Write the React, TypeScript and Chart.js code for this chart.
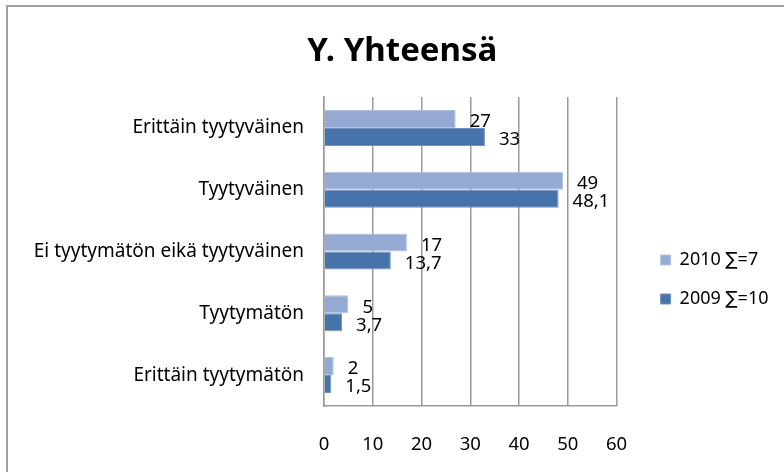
import React, { useEffect, useRef } from 'react';
import { Chart, registerables } from 'chart.js';

Chart.register(...registerables);

const chartTitle = 'Y. Yhteensä';
const categories = [
  'Erittäin tyytyväinen',
  'Tyytyväinen',
  'Ei tyytymätön eikä tyytyväinen',
  'Tyytymätön',
  'Erittäin tyytymätön',
];
const seriesNames = ['2010 ∑=7', '2009 ∑=10'];
const values2010 = [27, 49, 17, 5, 2];
const values2009 = [33, 48.1, 13.7, 3.7, 1.5];
const xTicks = [0, 10, 20, 30, 40, 50, 60];

const FONT = '"Noto Sans", "DejaVu Sans", sans-serif';

const valueLabels = {
  id: 'valueLabels',
  afterDatasetsDraw(chart: any) {
    const ctx = chart.ctx;
    ctx.save();
    ctx.font = `18.5px ${FONT}`;
    ctx.fillStyle = '#000000';
    ctx.textAlign = 'left';
    ctx.textBaseline = 'middle';
    chart.data.datasets.forEach((ds: any, i: number) => {
      const meta = chart.getDatasetMeta(i);
      meta.data.forEach((el: any, j: number) => {
        const v = ds.data[j];
        ctx.fillText(String(v).replace('.', ','), el.x + 14, el.y + 3);
      });
    });
    ctx.restore();
  },
};

export default function App() {
  const ref = useRef<HTMLCanvasElement | null>(null);

  useEffect(() => {
    if (!ref.current) return;
    const gridColor = '#9a9a9a';
    const chart = new Chart(ref.current, {
      type: 'bar',
      data: {
        labels: categories,
        datasets: [
          {
            label: seriesNames[0],
            data: values2010,
            backgroundColor: '#95aad2',
            borderColor: '#b3c2e2',
            borderWidth: 1,
            barPercentage: 1,
            categoryPercentage: 0.583,
          },
          {
            label: seriesNames[1],
            data: values2009,
            backgroundColor: '#4673aa',
            borderColor: '#6f90c0',
            borderWidth: 1,
            barPercentage: 1,
            categoryPercentage: 0.583,
          },
        ],
      },
      options: {
        indexAxis: 'y',
        responsive: false,
        animation: false,
        layout: { padding: { left: 26, right: 5.5, top: 0, bottom: 0 } },
        plugins: {
          title: {
            display: true,
            text: chartTitle,
            color: '#000000',
            font: { family: FONT, size: 33, weight: 'bold' },
            padding: { top: 32, bottom: 25.4 },
          },
          legend: {
            display: true,
            position: 'right',
            align: 'center',
            maxWidth: 220,
            title: { display: true, text: '', font: { size: 10 }, padding: { top: 75, bottom: 0 } },
            labels: {
              color: '#000000',
              font: { family: FONT, size: 18 },
              boxWidth: 10,
              boxHeight: 10,
              padding: 21,
            },
          },
          tooltip: { enabled: false },
        },
        scales: {
          x: {
            type: 'linear',
            position: 'bottom',
            min: 0,
            max: 60,
            afterBuildTicks: (s: any) => {
              s.ticks = xTicks.map((v) => ({ value: v }));
            },
            afterFit: (s: any) => {
              s.height = 66;
            },
            grid: { color: gridColor, lineWidth: 1.5, drawTicks: false },
            border: { color: gridColor, width: 1.5 },
            ticks: {
              color: '#000000',
              font: { family: FONT, size: 18.5 },
              padding: 28,
            },
          },
          y: {
            type: 'category',
            position: 'left',
            afterFit: (s: any) => {
              s.width = 298;
            },
            grid: { display: false, drawTicks: false },
            border: { color: gridColor, width: 1.5 },
            ticks: {
              color: '#000000',
              font: { family: FONT, size: 19 },
              padding: 20,
            },
          },
          spacer: {
            type: 'linear',
            position: 'right',
            display: true,
            afterFit: (s: any) => {
              s.width = 23;
            },
            grid: { display: false, drawTicks: false },
            border: { display: false },
            ticks: { display: false },
          },
        },
      },
      plugins: [valueLabels],
    } as any);
    return () => chart.destroy();
  }, []);

  return (
    <div
      style={{
        position: 'fixed',
        left: 0,
        top: 0,
        width: 784,
        height: 472,
        overflow: 'hidden',
        background: '#ffffff',
      }}
    >
      <div
        style={{
          position: 'absolute',
          left: 6,
          top: 5,
          width: 900,
          height: 600,
          borderTop: '2px solid #a0a0a0',
          borderLeft: '2px solid #a0a0a0',
          boxSizing: 'border-box',
        }}
      />
      <canvas
        ref={ref}
        width={784}
        height={472}
        style={{ position: 'absolute', left: 0, top: 0, width: 784, height: 472 }}
      />
    </div>
  );
}
